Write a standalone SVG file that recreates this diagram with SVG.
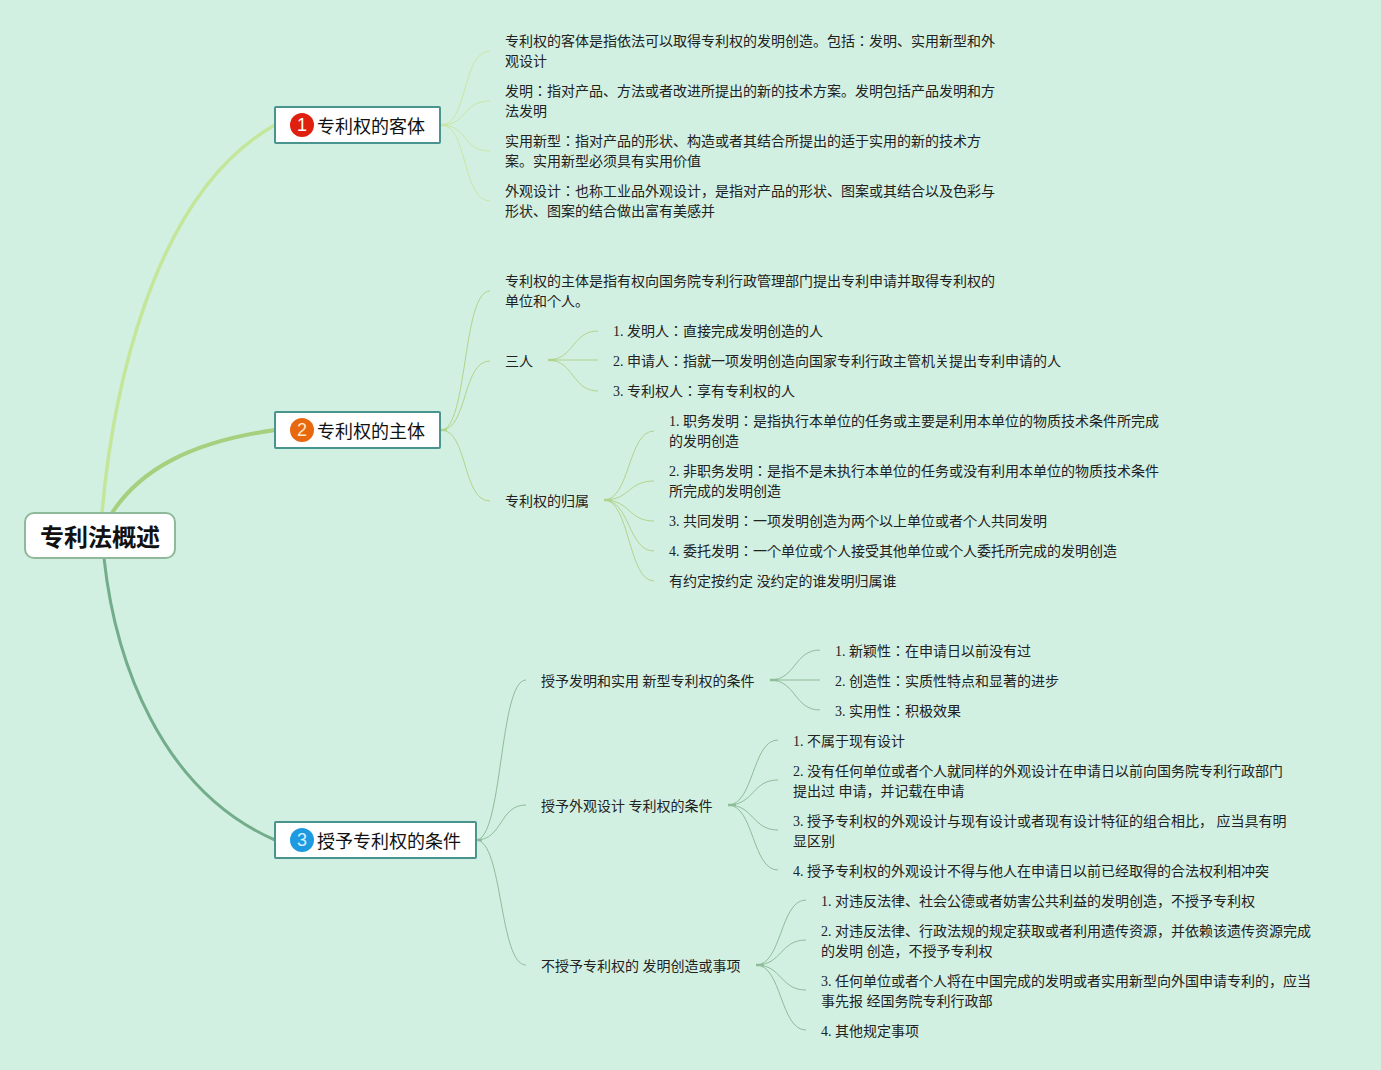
<svg xmlns="http://www.w3.org/2000/svg" width="1381" height="1070" viewBox="0 0 1381 1070">
<style>
text{font-family:"Liberation Serif","Noto Sans CJK JP",serif;font-size:14px;fill:#222}
.t{font-family:"Liberation Sans","Noto Sans CJK JP",sans-serif;font-size:18px;fill:#111}
.r{font-family:"Liberation Sans","Noto Sans CJK JP",sans-serif;font-size:24px;font-weight:700;fill:#111}
.n{font-family:"Liberation Sans","Noto Sans CJK JP",sans-serif;font-size:18px;fill:#fff;text-anchor:middle}
.b{fill:#fff;stroke:#4a9490;stroke-width:2}
#connectors path{fill:none}
.a{stroke:#c8e7a4;stroke-width:1}
.c{stroke:#b0d48c;stroke-width:1}
.e{stroke:#8fbc9a;stroke-width:1}
.h{stroke-width:2.5}
</style>
<rect width="1381" height="1070" fill="#d2f0e1"/>
<g id="connectors">
<path d="M102 513C112 400 150 195 275 125" stroke="#c4e69a" stroke-width="3.5"/>
<path d="M112 513C140 470 190 442 275 430" stroke="#a6cf7e" stroke-width="4"/>
<path d="M104 558C115 660 160 790 275 840" stroke="#74ad8c" stroke-width="3"/>
<path class="a" d="M441 125C468 125 462 51 490 51"/>
<path class="a" d="M441 125C468 125 462 101 490 101"/>
<path class="a" d="M441 125C468 125 462 151 490 151"/>
<path class="a" d="M441 125C468 125 462 201 490 201"/>
<path class="a h" d="M441 125H447"/>
<path class="c" d="M441 430C468 430 462 291 490 291"/>
<path class="c" d="M441 430C468 430 462 361 490 361"/>
<path class="c" d="M441 430C468 430 462 501 490 501"/>
<path class="c h" d="M441 430H447"/>
<path class="c" d="M548 360C574 360 572 331 598 331"/>
<path class="c" d="M548 360H598"/>
<path class="c" d="M548 360C574 360 572 391 598 391"/>
<path class="c h" d="M548 360H556"/>
<path class="c" d="M604 500C630 500 628 431 654 431"/>
<path class="c" d="M604 500C630 500 628 481 654 481"/>
<path class="c" d="M604 500C630 500 628 521 654 521"/>
<path class="c" d="M604 500C630 500 628 551 654 551"/>
<path class="c" d="M604 500C630 500 628 581 654 581"/>
<path class="c h" d="M604 500H612"/>
<path class="e" d="M476 840C503 840 499 680 526 680"/>
<path class="e" d="M476 840C503 840 499 805 526 805"/>
<path class="e" d="M476 840C503 840 499 965 526 965"/>
<path class="e h" d="M476 840H482"/>
<path class="e" d="M770 680C796 680 794 650 820 650"/>
<path class="e" d="M770 680H820"/>
<path class="e" d="M770 680C796 680 794 710 820 710"/>
<path class="e h" d="M770 680H778"/>
<path class="e" d="M728 805C754 805 752 740 778 740"/>
<path class="e" d="M728 805C754 805 752 780 778 780"/>
<path class="e" d="M728 805C754 805 752 830 778 830"/>
<path class="e" d="M728 805C754 805 752 870 778 870"/>
<path class="e h" d="M728 805H736"/>
<path class="e" d="M756 965C782 965 780 900 806 900"/>
<path class="e" d="M756 965C782 965 780 940 806 940"/>
<path class="e" d="M756 965C782 965 780 990 806 990"/>
<path class="e" d="M756 965C782 965 780 1030 806 1030"/>
<path class="e h" d="M756 965H764"/>
</g>
<g id="root"><rect x="25" y="513" width="150" height="45" rx="9" fill="#fff" stroke="#8fb99a" stroke-width="2"/><text class="r" x="40" y="546">专利法概述</text></g>
<g id="n1"><rect class="b" x="275" y="107" width="165" height="36" rx="1"/><circle cx="302" cy="125" r="12" fill="#e0200e"/><text class="n" x="302" y="131">1</text><text class="t" x="317" y="133">专利权的客体</text></g>
<g id="n2"><rect class="b" x="275" y="412" width="165" height="36" rx="1"/><circle cx="302" cy="430" r="12" fill="#e8680f"/><text class="n" x="302" y="436" style="fill:#ffe9c8">2</text><text class="t" x="317" y="438">专利权的主体</text></g>
<g id="n3"><rect class="b" x="275" y="822" width="201" height="36" rx="1"/><circle cx="302" cy="840" r="12" fill="#1e9ae0"/><text class="n" x="302" y="846" style="fill:#d8f0ff">3</text><text class="t" x="317" y="848">授予专利权的条件</text></g>
<g id="n1-1"><text x="505" y="46">专利权的客体是指依法可以取得专利权的发明创造。包括：发明、实用新型和外</text><text x="505" y="66">观设计</text></g>
<g id="n1-2"><text x="505" y="96">发明：指对产品、方法或者改进所提出的新的技术方案。发明包括产品发明和方</text><text x="505" y="116">法发明</text></g>
<g id="n1-3"><text x="505" y="146">实用新型：指对产品的形状、构造或者其结合所提出的适于实用的新的技术方</text><text x="505" y="166">案。实用新型必须具有实用价值</text></g>
<g id="n1-4"><text x="505" y="196">外观设计：也称工业品外观设计，是指对产品的形状、图案或其结合以及色彩与</text><text x="505" y="216">形状、图案的结合做出富有美感并</text></g>
<g id="n2-1"><text x="505" y="286">专利权的主体是指有权向国务院专利行政管理部门提出专利申请并取得专利权的</text><text x="505" y="306">单位和个人。</text></g>
<g id="n2-2"><text x="505" y="366">三人</text></g>
<g id="n2-2-1"><text x="613" y="336">1. 发明人：直接完成发明创造的人</text></g>
<g id="n2-2-2"><text x="613" y="366">2. 申请人：指就一项发明创造向国家专利行政主管机关提出专利申请的人</text></g>
<g id="n2-2-3"><text x="613" y="396">3. 专利权人：享有专利权的人</text></g>
<g id="n2-3"><text x="505" y="506">专利权的归属</text></g>
<g id="n2-3-1"><text x="669" y="426">1. 职务发明：是指执行本单位的任务或主要是利用本单位的物质技术条件所完成</text><text x="669" y="446">的发明创造</text></g>
<g id="n2-3-2"><text x="669" y="476">2. 非职务发明：是指不是未执行本单位的任务或没有利用本单位的物质技术条件</text><text x="669" y="496">所完成的发明创造</text></g>
<g id="n2-3-3"><text x="669" y="526">3. 共同发明：一项发明创造为两个以上单位或者个人共同发明</text></g>
<g id="n2-3-4"><text x="669" y="556">4. 委托发明：一个单位或个人接受其他单位或个人委托所完成的发明创造</text></g>
<g id="n2-3-5"><text x="669" y="586">有约定按约定 没约定的谁发明归属谁</text></g>
<g id="n3-1"><text x="541" y="686">授予发明和实用 新型专利权的条件</text></g>
<g id="n3-1-1"><text x="835" y="656">1. 新颖性：在申请日以前没有过</text></g>
<g id="n3-1-2"><text x="835" y="686">2. 创造性：实质性特点和显著的进步</text></g>
<g id="n3-1-3"><text x="835" y="716">3. 实用性：积极效果</text></g>
<g id="n3-2"><text x="541" y="811">授予外观设计 专利权的条件</text></g>
<g id="n3-2-1"><text x="793" y="746">1. 不属于现有设计</text></g>
<g id="n3-2-2"><text x="793" y="776">2. 没有任何单位或者个人就同样的外观设计在申请日以前向国务院专利行政部门</text><text x="793" y="796">提出过 申请，并记载在申请</text></g>
<g id="n3-2-3"><text x="793" y="826">3. 授予专利权的外观设计与现有设计或者现有设计特征的组合相比， 应当具有明</text><text x="793" y="846">显区别</text></g>
<g id="n3-2-4"><text x="793" y="876">4. 授予专利权的外观设计不得与他人在申请日以前已经取得的合法权利相冲突</text></g>
<g id="n3-3"><text x="541" y="971">不授予专利权的 发明创造或事项</text></g>
<g id="n3-3-1"><text x="821" y="906">1. 对违反法律、社会公德或者妨害公共利益的发明创造，不授予专利权</text></g>
<g id="n3-3-2"><text x="821" y="936">2. 对违反法律、行政法规的规定获取或者利用遗传资源，并依赖该遗传资源完成</text><text x="821" y="956">的发明 创造，不授予专利权</text></g>
<g id="n3-3-3"><text x="821" y="986">3. 任何单位或者个人将在中国完成的发明或者实用新型向外国申请专利的，应当</text><text x="821" y="1006">事先报 经国务院专利行政部</text></g>
<g id="n3-3-4"><text x="821" y="1036">4. 其他规定事项</text></g>
</svg>
